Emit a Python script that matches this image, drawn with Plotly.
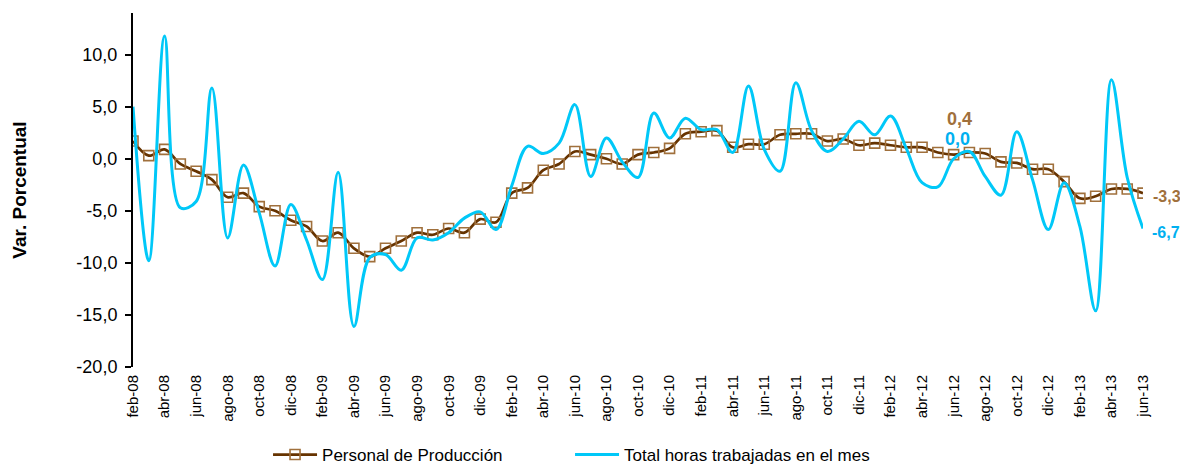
import plotly.graph_objects as go

MESES = ["ene", "feb", "mar", "abr", "may", "jun", "jul", "ago", "sep", "oct", "nov", "dic"]
meses = []
m, a = 1, 8
for _ in range(65):
    meses.append(f"{MESES[m]}-{a:02d}")
    m += 1
    if m == 12:
        m, a = 0, a + 1

personal = [1.7, 0.3, 0.9, -0.5, -1.2, -2.0, -3.7, -3.3, -4.6, -5.0,
            -5.9, -6.5, -7.9, -7.1, -8.6, -9.4, -8.6, -7.9, -7.1, -7.3,
            -6.7, -7.1, -5.8, -6.1, -3.3, -2.8, -1.1, -0.5, 0.7, 0.4,
            0.0, -0.5, 0.4, 0.6, 1.0, 2.4, 2.6, 2.7, 1.1, 1.4,
            1.4, 2.3, 2.4, 2.4, 1.7, 1.9, 1.3, 1.5, 1.3, 1.1,
            1.1, 0.6, 0.4, 0.6, 0.5, -0.3, -0.4, -1.0, -1.0, -2.2,
            -3.8, -3.6, -2.9, -2.9, -3.3]

horas = [5.0, -9.8, 11.8, -4.7, -4.1, 6.8, -7.6, -0.6, -5.2, -10.3,
         -4.4, -7.8, -11.6, -1.3, -16.1, -9.5, -9.2, -10.7, -7.6, -7.8,
         -7.1, -5.7, -5.1, -6.8, -2.6, 1.2, 0.5, 1.5, 5.2, -1.7,
         2.0, -0.3, -1.8, 4.4, 2.0, 3.9, 2.8, 2.8, 0.6, 7.0,
         0.9, -1.2, 7.3, 2.7, 0.7, 1.9, 3.6, 2.3, 4.1, 1.0,
         -2.3, -2.7, 0.0, 0.7, -1.7, -3.5, 2.6, -2.0, -6.8, -2.3,
         -6.5, -14.6, 7.6, -1.8, -6.7]

y_ticks = [-20, -15, -10, -5, 0, 5, 10]
tick_meses = meses[::2]

def fmt(v):
    return f"{v:.1f}".replace(".", ",")

FONT = "Liberation Sans, Arial, sans-serif"
BROWN_LINE = "#663300"
BROWN_MARK = "#A0703C"
BLUE = "#00C8F8"
BLUE_TXT = "#00B0F0"

W, H = 1172, 457

fig = go.Figure()
fig.add_trace(go.Scatter(
    x=meses, y=personal, name="Personal de Producción",
    mode="lines+markers", legendwidth=243,
    line=dict(color=BROWN_LINE, width=2.7, shape="spline", smoothing=1.0),
    marker=dict(symbol="square-open", size=10, color=BROWN_MARK, line=dict(width=1.6, color=BROWN_MARK)),
))
fig.add_trace(go.Scatter(
    x=meses, y=horas, name="Total horas trabajadas en el mes",
    mode="lines",
    line=dict(color=BLUE, width=3, shape="spline", smoothing=1.0),
))

idx_jun12 = meses.index("jun-12")
ann = [
    dict(x=meses[idx_jun12], y=personal[idx_jun12], text=fmt(personal[idx_jun12]),
         font=dict(color=BROWN_MARK, size=18, family=FONT), yshift=36, xshift=6),
    dict(x=meses[idx_jun12], y=horas[idx_jun12], text=fmt(horas[idx_jun12]),
         font=dict(color=BLUE_TXT, size=18, family=FONT), yshift=20, xshift=4),
    dict(x=meses[-1], y=personal[-1], text=fmt(personal[-1]),
         font=dict(color=BROWN_MARK, size=16, family=FONT), xanchor="left", xshift=8, yshift=-3),
    dict(x=meses[-1], y=horas[-1], text=fmt(horas[-1]),
         font=dict(color=BLUE_TXT, size=16, family=FONT), xanchor="left", xshift=7, yshift=-4),
]
for a_ in ann:
    a_["text"] = "<b>" + a_["text"] + "</b>"
    a_["showarrow"] = False
    a_["xref"] = "x"
    a_["yref"] = "y"

fig.update_layout(
    width=W, height=H,
    margin=dict(l=125, r=37, t=5, b=98, autoexpand=False),
    paper_bgcolor="white", plot_bgcolor="white",
    font=dict(family=FONT, color="black"),
    showlegend=True,
    legend=dict(orientation="h", x=0.1337, y=(H - 447) / H, xref="paper", yref="container",
                xanchor="left", yanchor="middle",
                font=dict(size=17, family=FONT), traceorder="normal",
                itemwidth=44),
    annotations=ann,
    xaxis=dict(
        type="category", range=[0, 64], tickvals=tick_meses, ticktext=tick_meses,
        tickangle=-90, tickfont=dict(size=15, family=FONT), showline=False,
        ticks="", showgrid=False, zeroline=False, ticklabelstandoff=4,
        automargin=False,
    ),
    xaxis2=dict(
        type="category", overlaying="x", anchor="free", position=20 / 34,
        range=[0, 64], tickvals=tick_meses, showticklabels=False,
        showline=True, linecolor="black", linewidth=1.5,
        ticks="outside", ticklen=6, tickwidth=1.5, tickcolor="black",
        showgrid=False, zeroline=False, layer="below traces", side="bottom",
        automargin=False,
    ),
    yaxis=dict(
        range=[-20, 14], tickvals=y_ticks, ticktext=[fmt(v) for v in y_ticks],
        tickfont=dict(size=18, family=FONT), showline=True, linecolor="black",
        linewidth=2, ticks="outside", ticklen=6, tickwidth=1.5, tickcolor="black",
        showgrid=False, zeroline=False, ticklabelstandoff=4, automargin=False,
        title=dict(text="<b>Var. Porcentual</b>", font=dict(size=19, family=FONT), standoff=45),
    ),
)

fig.write_html("out.html")
